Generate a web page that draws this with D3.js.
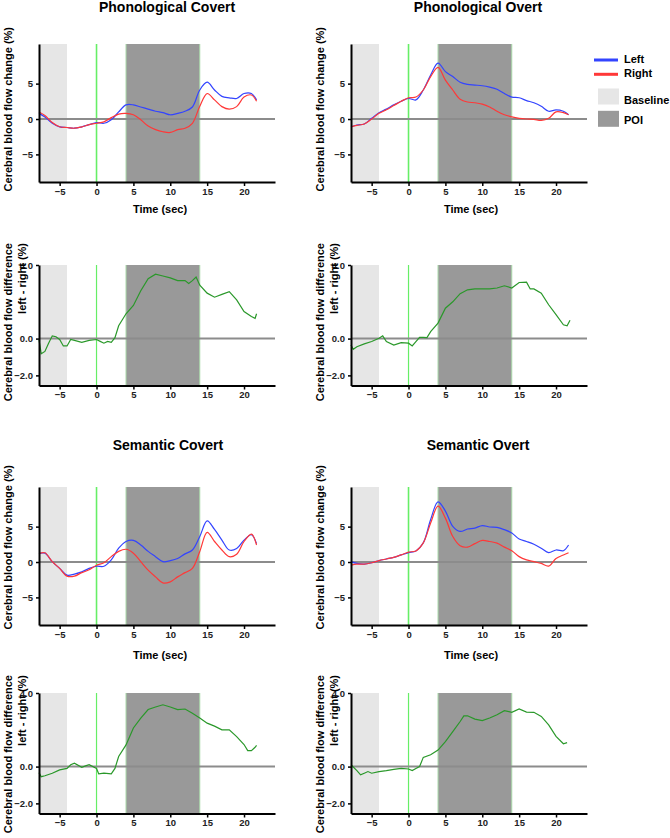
<!DOCTYPE html>
<html>
<head>
<meta charset="utf-8">
<script src="https://cdn.jsdelivr.net/npm/d3@7"></script>
<style>
  body { margin: 0; background: #fff; }
  text { font-family: Arial, "Liberation Sans", sans-serif; font-weight: bold; }
</style>
</head>
<body>
<div id="chart"></div>
<script>
// --- Data ---
const time = [-7.8, -7, -6, -5, -4, -3, -2, -1, 0, 1, 2, 3, 4, 5, 6, 7, 8, 9, 10,
  11, 12, 13, 14, 15, 16, 17, 18, 19, 20, 21, 21.7];

const phonCovertLeft = [0.8, 0.3, -0.6, -1.1, -1.2, -1.3, -1.1, -0.8, -0.5, -0.6, -0.1, 1.0, 2.0, 2.0, 1.7,
  1.4, 1.1, 0.9, 0.6, 0.8, 1.1, 1.7, 4.1, 5.2, 4.1, 3.2, 3.0, 2.9, 3.6, 3.6, 2.7];
const phonCovertRight = [1.0, 0.5, -0.5, -1.1, -1.2, -1.3, -1.1, -0.8, -0.6, -0.4, 0.2, 0.7, 0.8, 0.6, -0.1,
  -1.0, -1.5, -1.8, -1.9, -1.5, -1.3, -0.6, 1.8, 3.6, 2.7, 1.75, 1.4, 1.75, 3.1, 3.4, 2.5];
const phonOvertLeft = [-1.1, -0.85, -0.7, 0.1, 0.9, 1.4, 2.0, 2.5, 2.9, 2.7, 4.1, 6.2, 7.9, 6.7, 6.0,
  5.2, 4.9, 4.8, 4.7, 4.5, 4.2, 3.6, 3.1, 3.0, 2.6, 2.3, 1.8, 1.1, 1.3, 1.1, 0.6];
const phonOvertRight = [-1.1, -0.9, -0.7, 0.0, 0.8, 1.3, 1.9, 2.5, 3.0, 3.1, 4.1, 6.0, 7.3, 5.5, 4.1,
  2.8, 2.4, 2.3, 2.1, 1.7, 1.1, 0.6, 0.3, 0.1, 0.0, -0.05, -0.2, 0.1, 1.0, 0.9, 0.6];
const semCovertLeft = [1.2, 1.25, 0.05, -0.9, -1.86, -1.7, -1.4, -0.9, -0.6, -0.6, 0.3, 1.95, 2.9, 3.05, 2.4,
  1.5, 0.76, 0.05, 0.2, 0.5, 1.15, 1.7, 3.6, 5.8, 4.6, 3.1, 1.7, 1.9, 3.1, 3.85, 2.6];
const semCovertRight = [1.2, 1.3, 0.05, -0.9, -2.0, -2.0, -1.5, -1.1, -0.45, -0.1, 0.76, 1.5, 1.8, 1.25, 0.05,
  -1.15, -2.1, -2.95, -2.8, -2.1, -1.5, -0.9, 1.5, 4.2, 2.9, 1.7, 0.76, 1.1, 2.9, 3.95, 2.4];
const semOvertLeft = [0.05, -0.2, -0.3, -0.1, 0.2, 0.43, 0.66, 1.0, 1.33, 1.57, 2.7, 6.0, 8.5, 7.2, 5.05,
  4.33, 4.66, 4.8, 5.15, 4.95, 4.9, 4.57, 4.1, 3.25, 2.9, 2.5, 1.95, 1.33, 1.7, 1.6, 2.4];
const semOvertRight = [-0.45, -0.3, -0.3, -0.1, 0.2, 0.43, 0.66, 1.0, 1.4, 1.57, 2.7, 5.5, 7.9, 6.2, 3.6,
  2.3, 2.1, 2.6, 3.05, 2.9, 2.67, 2.1, 1.6, 0.76, 0.3, 0.05, -0.2, -0.57, 0.5, 1.0, 1.3];

// left - right difference, [time, value]
const phonCovertDiff = [[-7.8, -0.07], [-7.5, -0.83], [-7, -0.7], [-6.5, -0.25], [-6, 0.15], [-5.5, 0.1],
  [-5, -0.05], [-4.5, -0.4], [-4, -0.4], [-3.5, -0.05], [-3, -0.1], [-2, -0.2], [-1, -0.1], [0, -0.05],
  [0.5, -0.15], [1, -0.25], [1.5, -0.15], [2, -0.2], [2.5, 0.05], [3, 0.7], [4, 1.35], [5, 1.8], [6, 2.6],
  [7, 3.25], [8, 3.5], [9, 3.4], [10, 3.3], [11, 3.15], [12, 3.15], [12.5, 3.0], [13, 3.15], [13.5, 3.35],
  [14, 2.9], [15, 2.47], [16, 2.25], [17, 2.4], [18, 2.55], [19, 2.1], [20, 1.47], [21, 1.2], [21.5, 1.1],
  [21.7, 1.35]];
const phonOvertDiff = [[-7.8, -0.35], [-7.5, -0.58], [-7, -0.44], [-6, -0.29], [-5, -0.16], [-4, 0.02],
  [-3.5, 0.15], [-3, -0.16], [-2, -0.35], [-1, -0.22], [0, -0.25], [0.5, -0.4], [1, -0.16], [1.5, 0.07],
  [2, 0.07], [2.5, 0.05], [3, 0.38], [4, 0.84], [5, 1.65], [6, 2.0], [7, 2.44], [8, 2.65], [9, 2.7],
  [10, 2.7], [11, 2.7], [12, 2.75], [13, 2.87], [14, 2.75], [15, 3.05], [16, 3.07], [16.5, 2.7], [17, 2.7],
  [18, 2.47], [19, 1.84], [20, 1.3], [21, 0.75], [21.5, 0.7], [21.9, 1.0]];
const semCovertDiff = [[-7.8, -0.33], [-7.5, -0.55], [-7, -0.5], [-6, -0.36], [-5, -0.18], [-4, -0.1],
  [-3.5, 0.1], [-3, 0.18], [-2, -0.04], [-1.5, 0.04], [-1, 0.1], [0, -0.1], [0.3, -0.4], [1, -0.36],
  [2, -0.4], [2.5, -0.1], [3, 0.55], [4, 1.18], [5, 2.1], [6, 2.64], [7, 3.1], [8, 3.24], [9, 3.36],
  [10, 3.24], [11, 3.1], [12, 3.13], [13, 2.9], [14, 2.64], [15, 2.36], [16, 2.2], [17, 2.0], [18, 2.0],
  [19, 1.63], [20, 1.2], [20.5, 0.87], [21, 0.87], [21.5, 1.05], [21.7, 1.15]];
const semOvertDiff = [[-7.8, 0.1], [-7, -0.22], [-6.5, -0.45], [-6, -0.36], [-5.5, -0.27], [-5, -0.36],
  [-4, -0.27], [-3, -0.22], [-2, -0.15], [-1, -0.1], [0, -0.13], [0.5, -0.22], [1, -0.1], [1.5, 0],
  [2, 0.5], [3, 0.64], [4, 0.9], [5, 1.36], [6, 1.9], [7, 2.45], [7.5, 2.76], [8, 2.76], [9, 2.58],
  [10, 2.5], [11, 2.64], [12, 2.82], [13, 3.04], [14, 2.95], [15, 3.13], [16, 2.96], [17, 2.95],
  [18, 2.73], [19, 2.27], [20, 1.64], [21, 1.24], [21.5, 1.3]];

const baselineWindow = [-8, -4];
const poiWindow = [4, 14];
const xTicks = [-5, 0, 5, 10, 15, 20];
const flowTicks = [-5, 0, 5];
const diffTicks = [-2, 0, 4];
const titles = ["Phonological Covert", "Phonological Overt", "Semantic Covert", "Semantic Overt"];
const legendLines = ["Left", "Right"];
const legendBoxes = ["Baseline", "POI"];

// --- Setup ---
const width = 670, height = 838;
const colors = { left: "#3344ff", right: "#ff3838", diff: "#2a982a",
  baseline: "#e6e6e6", poi: "#999999", zero: "#8c8c8c", onset: "#66ee66", edge: "#a8d8a8" };

const svg = d3.select("#chart").append("svg")
  .attr("width", width)
  .attr("height", height);

const columns = [{ x0: 39, x1: 275 }, { x0: 351, x1: 587 }];

function drawPanel(col, top, bottom, kind, series, labelEnd) {
  const x = d3.scaleLinear().domain([-7.8, 24.2]).range([col.x0, col.x1]);
  const y = kind === "flow"
    ? d3.scaleLinear().domain([-8.9, 10.6]).range([bottom, top])
    : d3.scaleLinear().domain([-2.55, 4]).range([bottom, top]);
  const g = svg.append("g");

  // shaded windows
  g.append("rect")
    .attr("x", x(-7.8)).attr("y", top)
    .attr("width", x(baselineWindow[1]) - x(-7.8)).attr("height", bottom - top)
    .attr("fill", colors.baseline);
  g.append("rect")
    .attr("x", x(poiWindow[0])).attr("y", top)
    .attr("width", x(poiWindow[1]) - x(poiWindow[0])).attr("height", bottom - top)
    .attr("fill", colors.poi);
  poiWindow.forEach(t => {
    g.append("line")
      .attr("x1", x(t)).attr("x2", x(t)).attr("y1", top).attr("y2", bottom)
      .attr("stroke", colors.edge).attr("stroke-width", 1);
  });
  g.append("line")
    .attr("x1", x(0)).attr("x2", x(0)).attr("y1", top).attr("y2", bottom)
    .attr("stroke", colors.onset).attr("stroke-width", kind === "flow" ? 1.6 : 1.2);

  // zero line
  g.append("line")
    .attr("x1", col.x0).attr("x2", col.x1).attr("y1", y(0)).attr("y2", y(0))
    .attr("stroke", colors.zero).attr("stroke-width", 2);

  series.forEach(s => {
    const line = d3.line()
      .x(s.tx)
      .y(s.vy(y))
      .curve(s.curve);
    g.append("path")
      .datum(s.values)
      .attr("d", line.x(d => x(s.tx(d))))
      .attr("fill", "none")
      .attr("stroke", s.color)
      .attr("stroke-width", 1.2);
  });

  // axes
  const xAxis = g.append("g")
    .attr("transform", `translate(0,${bottom})`)
    .call(d3.axisBottom(x).tickValues(xTicks).tickSize(4).tickSizeOuter(0).tickPadding(2));
  const yAxis = g.append("g")
    .attr("transform", `translate(${col.x0},0)`)
    .call(d3.axisLeft(y).tickValues(kind === "flow" ? flowTicks : diffTicks)
      .tickSize(3).tickSizeOuter(0).tickPadding(3));
  [xAxis, yAxis].forEach(a => {
    a.select(".domain").attr("stroke", "#000").attr("stroke-width", 2);
    a.selectAll(".tick line").attr("stroke", "#000").attr("stroke-width", 1.5);
    a.selectAll(".tick text")
      .attr("fill", "#222")
      .style("font-size", "9.5px")
      .style("font-family", "Arial, 'Liberation Sans', sans-serif")
      .style("font-weight", "bold");
  });

  // y label
  const lx = col.x0 - 27.5;
  if (kind === "flow") {
    svg.append("text")
      .attr("transform", `translate(${lx},${labelEnd}) rotate(-90)`)
      .attr("text-anchor", "end")
      .style("font-size", "11px")
      .text("Cerebral blood flow change (%)");
  } else {
    svg.append("text")
      .attr("transform", `translate(${lx},${labelEnd}) rotate(-90)`)
      .attr("text-anchor", "end")
      .style("font-size", "11px")
      .text("Cerebral blood flow difference");
    svg.append("text")
      .attr("transform", `translate(${lx + 14},${labelEnd}) rotate(-90)`)
      .attr("text-anchor", "end")
      .style("font-size", "11px")
      .text("left - right (%)");
  }
}

const flowSeries = (l, r) => [l, r].map((vals, k) => ({
  values: vals.map((v, i) => [time[i], v]),
  tx: d => d[0],
  vy: y => d => y(d[1]),
  color: k === 0 ? colors.left : colors.right,
  curve: d3.curveCatmullRom
}));
const diffSeries = d => [{
  values: d,
  tx: p => p[0],
  vy: y => p => y(p[1]),
  color: colors.diff,
  curve: d3.curveLinear
}];

// rows 1 and 2: phonological
drawPanel(columns[0], 44, 182, "flow", flowSeries(phonCovertLeft, phonCovertRight), 27);
drawPanel(columns[1], 44, 182, "flow", flowSeries(phonOvertLeft, phonOvertRight), 27);
drawPanel(columns[0], 265, 385.5, "diff", diffSeries(phonCovertDiff), 243);
drawPanel(columns[1], 265, 385.5, "diff", diffSeries(phonOvertDiff), 243);
// rows 3 and 4: semantic
drawPanel(columns[0], 487, 625, "flow", flowSeries(semCovertLeft, semCovertRight), 465);
drawPanel(columns[1], 487, 625, "flow", flowSeries(semOvertLeft, semOvertRight), 465);
drawPanel(columns[0], 693, 813.5, "diff", diffSeries(semCovertDiff), 675);
drawPanel(columns[1], 693, 813.5, "diff", diffSeries(semOvertDiff), 675);

// titles and time labels
const titlePos = [[167, 12], [478, 12], [168, 450], [478, 450]];
titles.forEach((t, i) => {
  svg.append("text")
    .attr("x", titlePos[i][0]).attr("y", titlePos[i][1])
    .attr("text-anchor", "middle")
    .style("font-size", "14px")
    .text(t);
});
[[160, 213], [471, 213], [160, 659], [471, 659]].forEach(p => {
  svg.append("text")
    .attr("x", p[0]).attr("y", p[1])
    .attr("text-anchor", "middle")
    .style("font-size", "11px")
    .text("Time (sec)");
});

// --- Legend ---
const legend = svg.append("g");
[colors.left, colors.right].forEach((c, i) => {
  legend.append("line")
    .attr("x1", 594).attr("x2", 618)
    .attr("y1", 60 + i * 14.3).attr("y2", 60 + i * 14.3)
    .attr("stroke", c).attr("stroke-width", 3);
  legend.append("text")
    .attr("x", 624).attr("y", 63 + i * 13.5)
    .style("font-size", "11px")
    .text(legendLines[i]);
});
[colors.baseline, colors.poi].forEach((c, i) => {
  legend.append("rect")
    .attr("x", 598).attr("y", 88.5 + i * 22.3)
    .attr("width", 21).attr("height", 16)
    .attr("fill", c);
  legend.append("text")
    .attr("x", 624).attr("y", 103.5 + i * 20)
    .style("font-size", "11px")
    .text(legendBoxes[i]);
});
</script>
</body>
</html>
